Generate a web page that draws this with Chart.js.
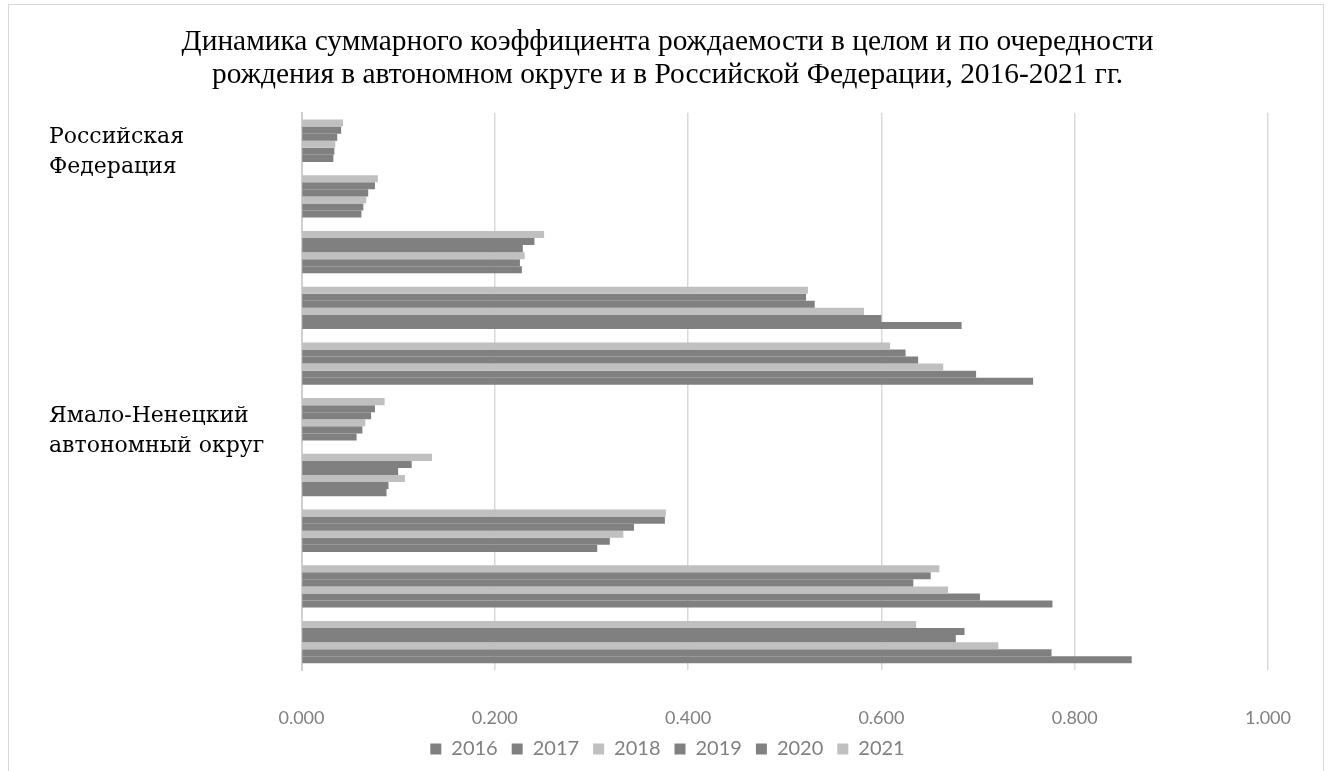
<!DOCTYPE html>
<html>
<head>
<meta charset="utf-8">
<script src="https://cdn.jsdelivr.net/npm/chart.js@4"></script>
<style>
  body { margin: 0; background: #fff; overflow: hidden; }
  #frame { position: absolute; left: 8px; top: 4px; width: 1314px; height: 800px; border: 1px solid #d9d9d9; }
  #wrap { position: absolute; left: 0; top: 0; width: 1328px; height: 771px; }
</style>
</head>
<body>
<div id="frame"></div>
<div id="wrap"><canvas id="tfr"></canvas></div>
<script>
// categories, top to bottom (only group names are labelled)
const categories = [
  ['Российская', 'Федерация'], '', '', '', '',
  ['Ямало-Ненецкий', 'автономный округ'], '', '', '', ''
];

const years = ['2016', '2017', '2018', '2019', '2020', '2021'];

const y2016 = [0.033, 0.062, 0.228, 0.683, 0.757, 0.057, 0.088, 0.306, 0.777, 0.859];
const y2017 = [0.034, 0.064, 0.226, 0.600, 0.698, 0.063, 0.090, 0.319, 0.702, 0.776];
const y2018 = [0.035, 0.067, 0.231, 0.582, 0.664, 0.066, 0.107, 0.333, 0.669, 0.721];
const y2019 = [0.037, 0.069, 0.229, 0.531, 0.638, 0.072, 0.100, 0.344, 0.633, 0.677];
const y2020 = [0.041, 0.076, 0.241, 0.522, 0.625, 0.076, 0.114, 0.376, 0.651, 0.686];
const y2021 = [0.043, 0.079, 0.251, 0.524, 0.609, 0.086, 0.135, 0.377, 0.660, 0.636];

const seriesValues = [y2016, y2017, y2018, y2019, y2020, y2021];
const seriesColors = ['#808080', '#808080', '#c0c0c0', '#808080', '#808080', '#c0c0c0'];

// newest year sits on top of each band, so feed datasets in reverse
const datasets = years.map((year, i) => ({
  label: year,
  data: seriesValues[i],
  backgroundColor: seriesColors[i],
  borderWidth: 0,
  barPercentage: 1.0,
  categoryPercentage: 0.76
})).reverse();

// pull the category labels further left than the layout padding
const labelsLeft = {
  id: 'labelsLeft',
  afterLayout(chart) {
    chart.scales.y.left = 49;
  }
};

const ctx = document.getElementById('tfr').getContext('2d');

new Chart(ctx, {
  type: 'bar',
  data: { labels: categories, datasets: datasets },
  plugins: [labelsLeft],
  options: {
    indexAxis: 'y',
    responsive: true,
    maintainAspectRatio: false,
    animation: false,
    layout: {
      padding: { left: 67, right: 60, top: 0, bottom: 2 }
    },
    scales: {
      x: {
        min: 0,
        max: 1,
        afterFit: scale => { scale.height = 55; },
        ticks: {
          stepSize: 0.2,
          padding: 37,
          color: '#808080',
          font: { family: 'Lato', size: 18 },
          callback: v => v.toFixed(3)
        },
        grid: { color: '#d9d9d9', lineWidth: 1.5, drawTicks: false },
        border: { display: false }
      },
      y: {
        afterFit: scale => { scale.width = 234.5; },
        ticks: {
          crossAlign: 'far',
          labelOffset: 12,
          color: '#000',
          font: { family: 'DejaVu Serif', size: 22, lineHeight: 1.36 },
          autoSkip: false
        },
        grid: { display: false },
        border: { display: true, color: '#d0d0d0', width: 2 }
      }
    },
    plugins: {
      title: {
        display: true,
        text: ['Динамика суммарного коэффициента рождаемости в целом и по очередности',
               'рождения в автономном округе и в Российской Федерации, 2016-2021 гг.'],
        color: '#000',
        font: { family: 'Liberation Serif', size: 29.4, weight: 'normal', lineHeight: 1.12 },
        padding: { top: 26, bottom: 21 }
      },
      legend: {
        position: 'bottom',
        reverse: true,
        labels: {
          boxWidth: 11,
          boxHeight: 11,
          padding: 14,
          color: '#808080',
          font: { family: 'Lato', size: 20 }
        }
      },
      tooltip: { enabled: false }
    }
  }
});
</script>
</body>
</html>
